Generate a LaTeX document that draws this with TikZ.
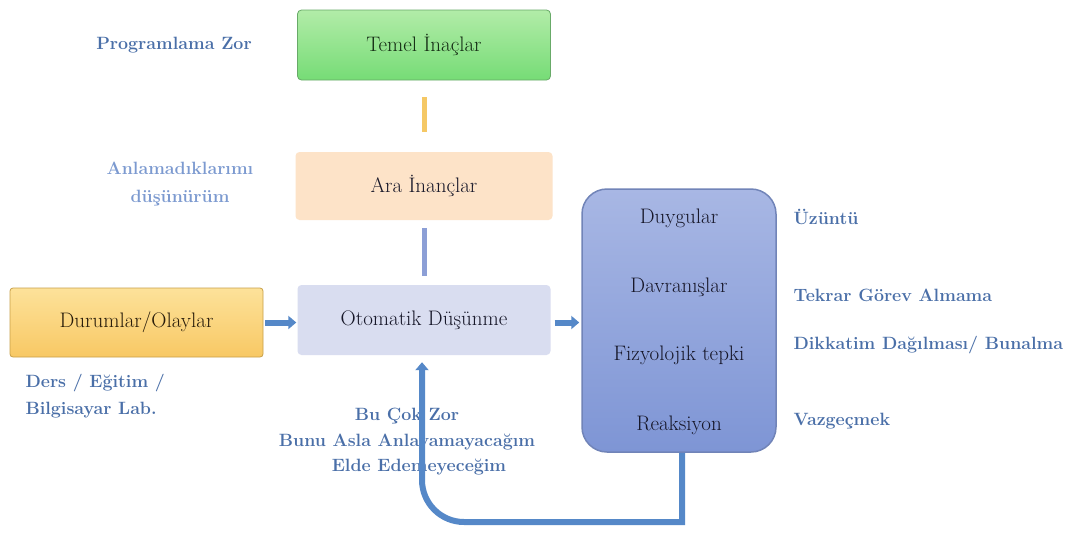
\documentclass[tikz,border=0pt]{standalone}
\usetikzlibrary{arrows.meta,calc}

\definecolor{boxtext}{HTML}{161628}
\definecolor{labelblue}{HTML}{4A6FA8}
\definecolor{labellight}{HTML}{7C9AD0}
\definecolor{linkblue}{HTML}{5588C8}
\definecolor{linkorange}{HTML}{F5C865}
\definecolor{linkgrey}{HTML}{8C9FD6}

\tikzset{
  boxlabel/.style={font=\fontsize{21}{25}\selectfont, text=boxtext},
  sidelabel/.style={font=\fontsize{17.8}{26}\selectfont\bfseries, text=labelblue},
  stagebox/.style={boxlabel, rounded corners=4pt, minimum width=253pt, minimum height=70pt, inner sep=0pt},
  flowarrow/.style={draw=linkblue, line width=6pt, -{Triangle[length=8pt,width=13pt]}},
}

\begin{document}
\begin{tikzpicture}[x=1pt,y=-1pt]
  \useasboundingbox[fill=white] (0,0) rectangle (1066,536);

  % belief levels and automatic thought
  \node[stagebox,
        top color={rgb,255:red,178;green,236;blue,168}, bottom color={rgb,255:red,118;green,220;blue,118},
        draw={rgb,255:red,104;green,170;blue,104}, line width=0.8pt, text={rgb,255:red,20;green,44;blue,20}]
        (temel) at (424,45) {Temel İnaçlar};
  \node[stagebox, fill={rgb,255:red,253;green,227;blue,200}, minimum width=257pt, minimum height=68pt]
        (ara) at (424,186) {Ara İnançlar};
  \node[stagebox, fill={rgb,255:red,217;green,221;blue,240}] (oto) at (424,320) {Otomatik Düşünme};

  % situations
  \node[stagebox, rounded corners=3pt, minimum height=69pt,
        top color={rgb,255:red,253;green,226;blue,154}, bottom color={rgb,255:red,248;green,200;blue,100},
        draw={rgb,255:red,200;green,160;blue,72}, line width=0.8pt, text={rgb,255:red,40;green,28;blue,10}]
        (dur) at (136.5,322.5) {Durumlar/Olaylar};

  % consequences block
  \node[rounded corners=25pt, minimum width=194pt, minimum height=263pt, inner sep=0pt,
        top color={rgb,255:red,168;green,183;blue,228}, bottom color={rgb,255:red,126;green,149;blue,213},
        draw={rgb,255:red,113;green,132;blue,184}, line width=1.5pt] (rbox) at (679,320.5) {};
  \node[boxlabel] (duy) at (679,218) {Duygular};
  \node[boxlabel] (dav) at (679,287) {Davranışlar};
  \node[boxlabel] (fiz) at (679,355) {Fizyolojik tepki};
  \node[boxlabel] (rea) at (679,425) {Reaksiyon};

  % side labels
  \node[sidelabel] (prog) at (174,45) {Programlama Zor};
  \node[sidelabel, text=labellight, align=center, font=\fontsize{17.8}{28}\selectfont\bfseries]
        (anla) at (180,184) {Anlamadıklarımı\\düşünürüm};
  \node[sidelabel, align=left, anchor=west, font=\fontsize{17.8}{27}\selectfont\bfseries]
        (ders) at (22,396.5) {Ders / Eğitim /\\Bilgisayar Lab.};
  \node[sidelabel, anchor=west] (uzu) at (790,217) {Üzüntü};
  \node[sidelabel, anchor=west] (tek) at (790,295) {Tekrar Görev Almama};
  \node[sidelabel, anchor=west] (dik) at (790,345) {Dikkatim Dağılması/ Bunalma};
  \node[sidelabel, anchor=west] (vaz) at (790,421) {Vazgeçmek};
  \node[sidelabel, align=center, font=\fontsize{17.8}{25.5}\selectfont\bfseries]
        (dusun) at (407,442) {Bu Çok Zor\\Bunu Asla Anlayamayacağım\\\hspace*{24pt}Elde Edemeyeceğim};

  % connectors
  \draw[draw=linkorange, line width=5pt, shorten <=17pt, shorten >=20pt] (temel.south) -- (ara.north);
  \draw[draw=linkgrey, line width=5pt, shorten <=8pt, shorten >=9pt] (ara.south) -- (oto.north);
  \draw[flowarrow, shorten <=2pt, shorten >=1pt] (dur.east) -- (dur.east -| oto.west);
  \draw[flowarrow, shorten <=4pt, shorten >=2pt] (oto.east |- dur.east) -- (rbox.west |- dur.east);
  % feedback loop from the reaction back to the automatic thought
  \draw[flowarrow, shorten >=7pt]
        ($(rbox.south)+(3,0)$) -- (682,522) [rounded corners=42pt] -- (422,522) -- (oto.south -| 422,0);
\end{tikzpicture}
\end{document}
